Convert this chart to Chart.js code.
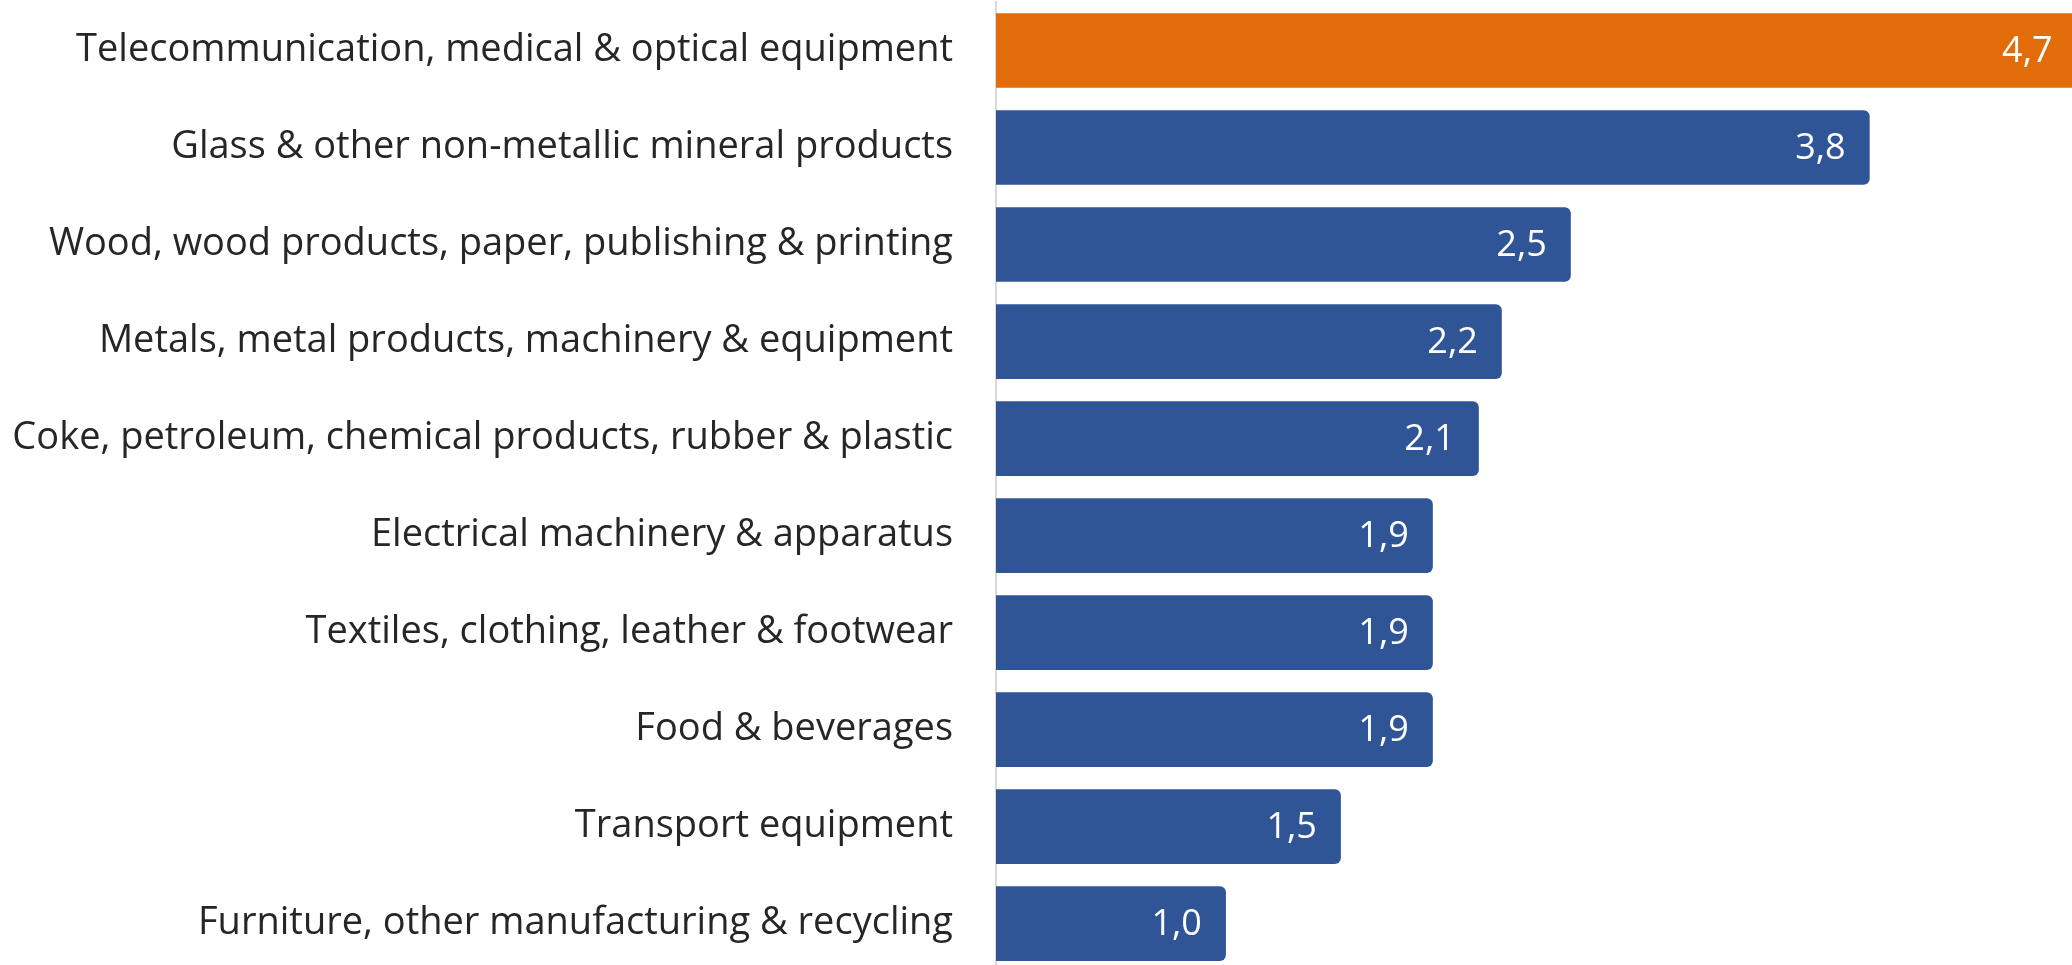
<!DOCTYPE html>
<html>
<head>
<meta charset="utf-8">
<script src="https://cdn.jsdelivr.net/npm/chart.js@4.4.1/dist/chart.umd.min.js"></script>
<style>
  html, body { margin: 0; padding: 0; background: #fff; overflow: hidden; }
  canvas { display: block; }
</style>
</head>
<body>
<canvas id="chartSectors" width="2072" height="974" style="width:2072px;height:974px"></canvas>
<script>
const sectors = [
    'Telecommunication, medical & optical equipment',
    'Glass & other non-metallic mineral products',
    'Wood, wood products, paper, publishing & printing',
    'Metals, metal products, machinery & equipment',
    'Coke, petroleum, chemical products, rubber & plastic',
    'Electrical machinery & apparatus',
    'Textiles, clothing, leather & footwear',
    'Food & beverages',
    'Transport equipment',
    'Furniture, other manufacturing & recycling'
];
const values = [4.7, 3.8, 2.5, 2.2, 2.1, 1.9, 1.9, 1.9, 1.5, 1.0];
const barColors = ['#E36C0A', '#2F5597', '#2F5597', '#2F5597', '#2F5597',
                   '#2F5597', '#2F5597', '#2F5597', '#2F5597', '#2F5597'];

const fontFamily = '"Open Sans", "Noto Sans", sans-serif';

// values written inside the bar end, with a decimal comma
const barValues = {
    id: 'barValues',
    afterDatasetsDraw(chart) {
        const ctx = chart.ctx;
        const meta = chart.getDatasetMeta(0);
        ctx.save();
        ctx.font = '36px ' + fontFamily;
        ctx.fillStyle = '#ffffff';
        ctx.textAlign = 'right';
        ctx.textBaseline = 'middle';
        meta.data.forEach((bar, i) => {
            const txt = values[i].toFixed(1).replace('.', ',');
            ctx.fillText(txt, Math.min(bar.x, chart.chartArea.right + 5) - 24, bar.y + 1);
        });
        ctx.restore();
    }
};

new Chart(document.getElementById('chartSectors'), {
    type: 'bar',
    data: {
        labels: sectors,
        datasets: [{
            data: values,
            backgroundColor: barColors,
            borderRadius: 6,
            borderSkipped: 'start',
            categoryPercentage: 1,
            barPercentage: 0.77
        }]
    },
    options: {
        indexAxis: 'y',
        responsive: false,
        devicePixelRatio: 1,
        animation: false,
        layout: { padding: { top: 2, right: 0, bottom: 0, left: 0 } },
        plugins: {
            legend: { display: false },
            tooltip: { enabled: false }
        },
        scales: {
            x: {
                display: false,
                min: 0,
                max: 4.68
            },
            y: {
                afterFit(scale) { scale.width = 996; },
                // invisible tick marks keep the gap between labels and axis
                grid: { display: true, drawOnChartArea: false, drawTicks: true, tickLength: 43, color: 'rgba(0,0,0,0)' },
                border: { display: true, color: '#d9d9d9', width: 2 },
                ticks: {
                    padding: 0,
                    color: '#262626',
                    font: { family: fontFamily, size: 38, lineHeight: 0.1 }
                }
            }
        }
    },
    plugins: [barValues]
});
</script>
</body>
</html>
